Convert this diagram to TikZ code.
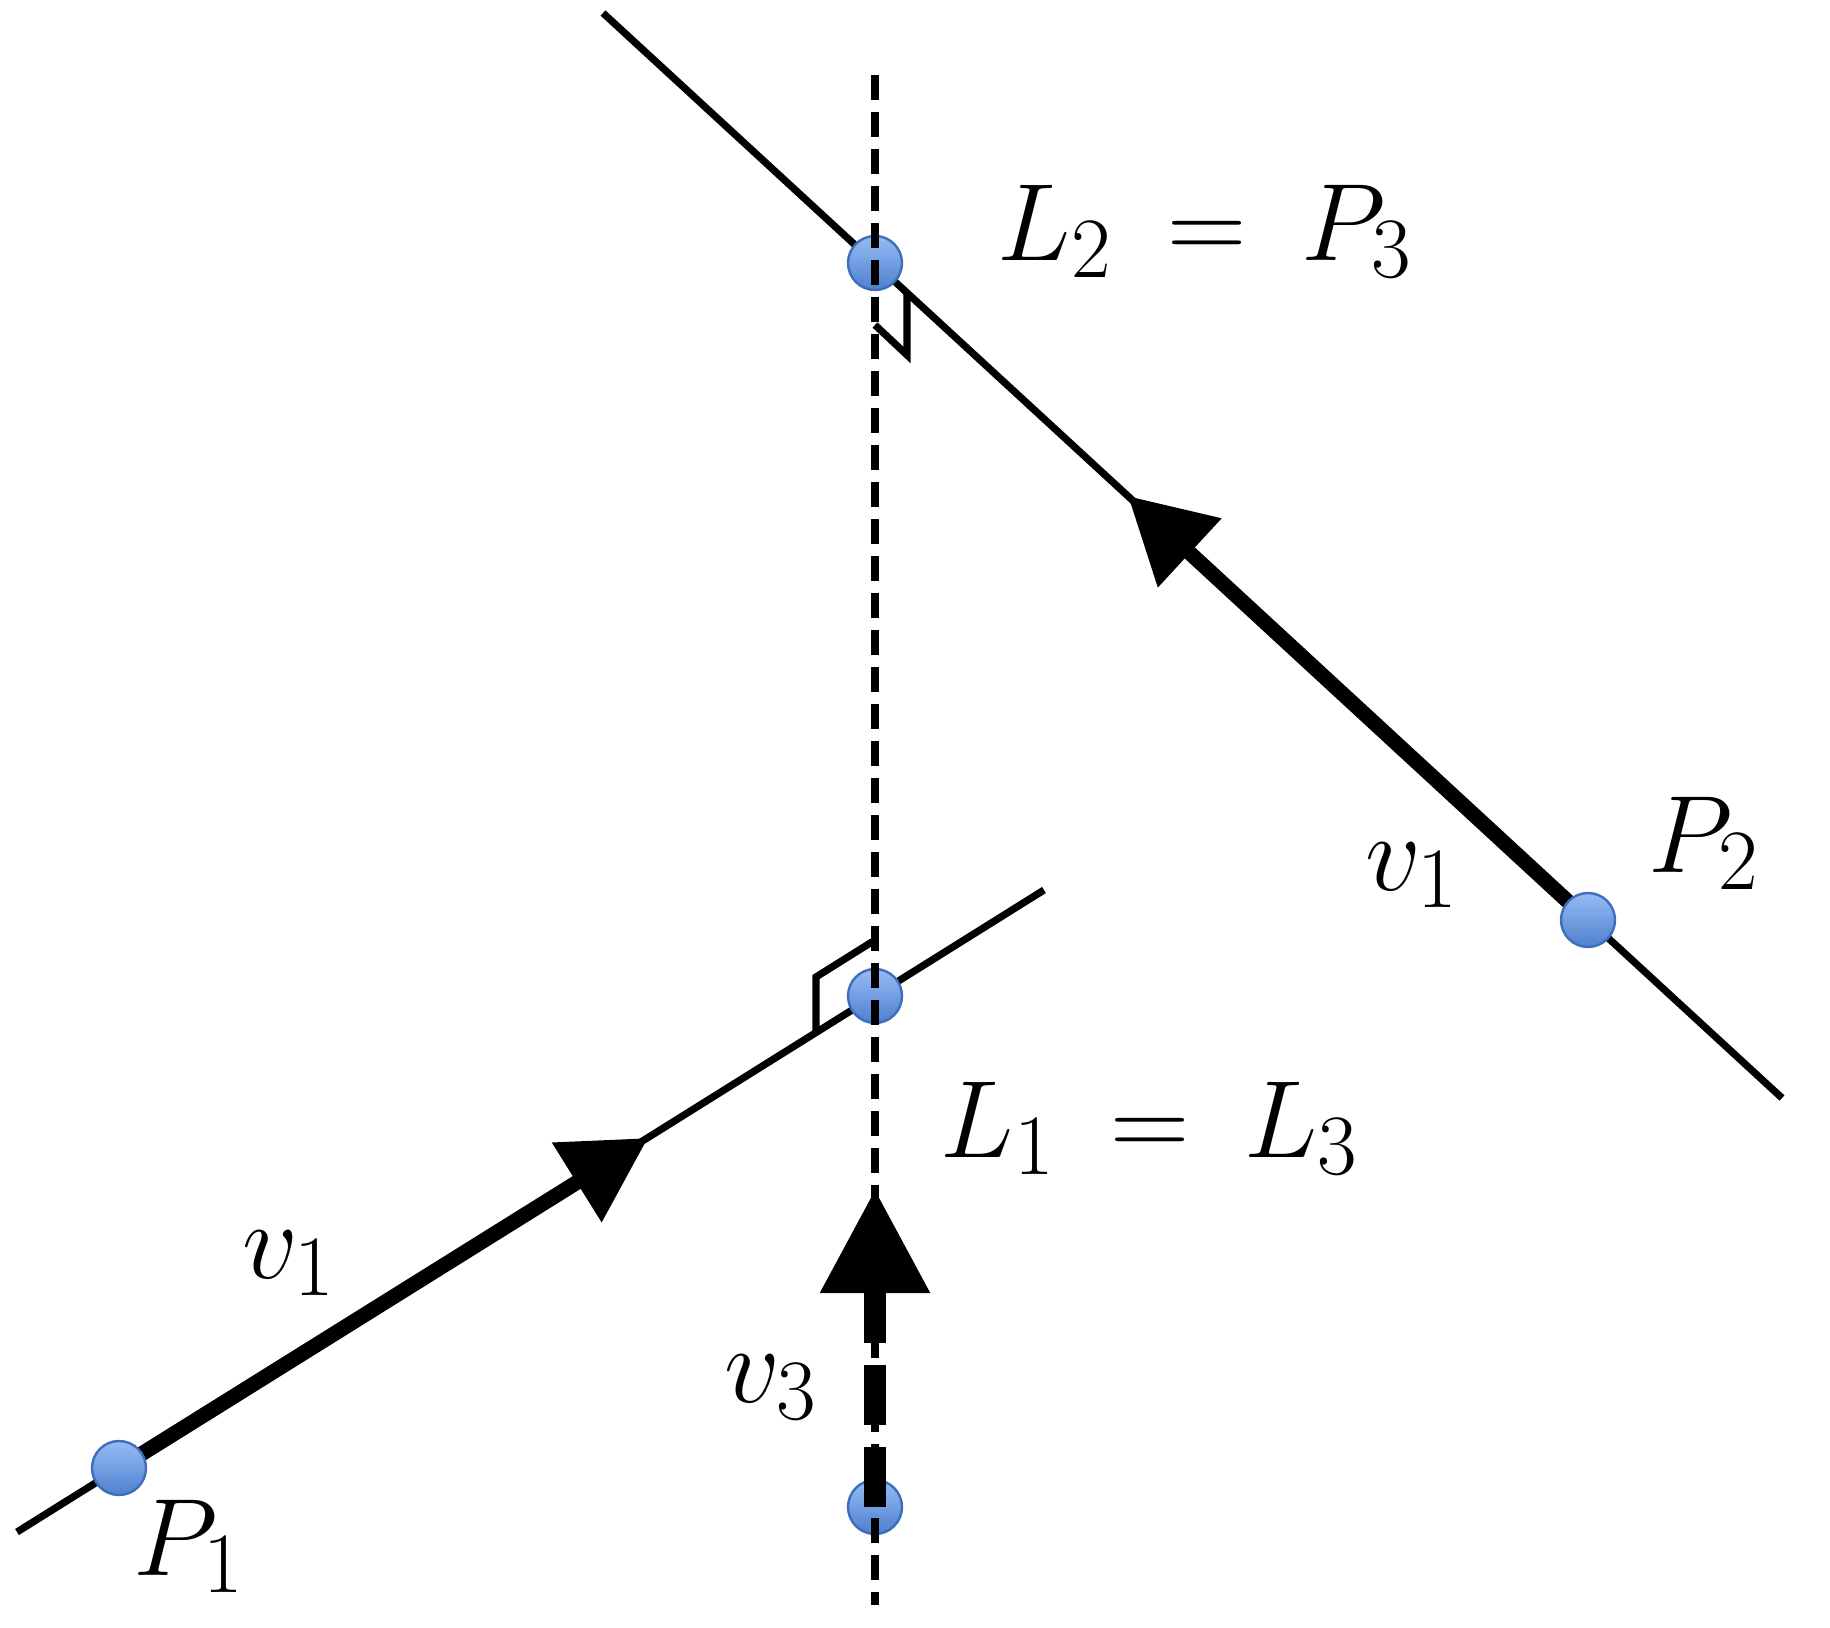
\RequirePackage{fix-cm}
\documentclass[tikz,border=0pt]{standalone}
\usetikzlibrary{arrows.meta}
\DeclareMathSizes{27.5}{27.5}{21.5}{16}
\definecolor{dottop}{RGB}{150,188,245}
\definecolor{dotbot}{RGB}{78,128,206}
\definecolor{dotrim}{RGB}{62,110,186}
\tikzset{
  dot/.style={circle,minimum size=13.5pt,inner sep=0pt,draw=dotrim,line width=0.6pt,top color=dottop,bottom color=dotbot},
  lbl/.style={font=\fontsize{27.5}{33}\selectfont,inner sep=0pt,anchor=base west},
}
\begin{document}
\begin{tikzpicture}[x=0.25pt,y=-0.25pt,
    line/.style={line width=1.8pt},
    vec/.style={line width=3.75pt,-{Triangle[length=21pt,width=22.5pt]}},
    perp/.style={line width=2pt,dash pattern=on 6.25pt off 3pt},
    vecdash/.style={line width=5.5pt,dash pattern=on 15pt off 5.5pt,-{Triangle[length=26pt,width=26pt]}}]
    \useasboundingbox (0,0) rectangle (1830,1627);
    % line ends and arrow tips
    \coordinate (a1) at (17,1532);
    \coordinate (a2) at (1044,890);
    \coordinate (b1) at (603,13);
    \coordinate (b2) at (1782,1098);
    \coordinate (c1) at (875,75);
    \coordinate (c2) at (875,1605);
    \coordinate (t1) at (648,1138);
    \coordinate (t2) at (1128,496);
    \coordinate (t3) at (875,1189);
    % lines
    \draw[line] (a1) -- (a2);
    \draw[line] (b1) -- (b2);
    \draw[vec] (119,1468) -- (t1);
    \draw[vec] (1588,920) -- (t2);
    % right angle marks
    \draw[line] (875,325) -- ++(32,30) -- ++(0,-62);
    \draw[line] (875,940) -- ++(-59,37) -- ++(0,56);
    % points
    \node[dot] (p1) at (119,1468) {};
    \node[dot] (p2) at (1588,920) {};
    \node[dot] (l1) at (875,996) {};
    \node[dot] (l2) at (875,263) {};
    \node[dot] (q3) at (875,1507) {};
    % vertical line and v3
    \draw[perp] (c1) -- (c2);
    \draw[vecdash] (q3.center) -- (t3);
    % labels
    \node[lbl] (lab-l2) at (997,260) {$L_2 \:=\: P_3$};
    \node[lbl] (lab-l1) at (940,1157) {$L_1 \:=\: L_3$};
    \node[lbl] (lab-p2) at (1648,872) {$P_2$};
    \node[lbl] (lab-p1) at (133,1575) {$P_1$};
    \node[lbl] (lab-v1r) at (1365,890) {$v_1$};
    \node[lbl] (lab-v1l) at (242,1278) {$v_1$};
    \node[lbl] (lab-v3) at (724,1402) {$v_3$};
\end{tikzpicture}
\end{document}
